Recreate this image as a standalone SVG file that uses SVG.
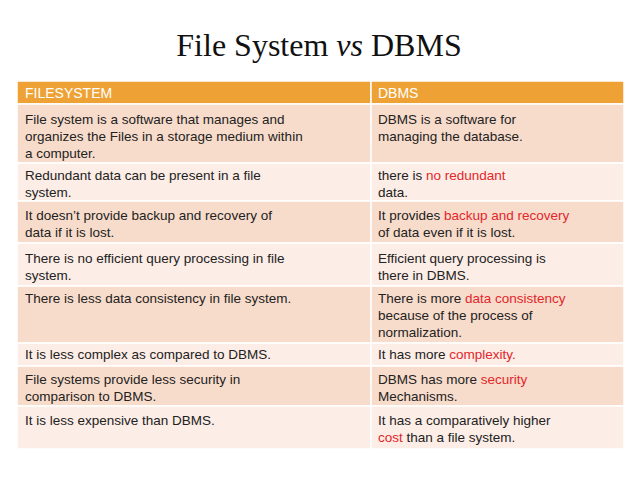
<svg xmlns="http://www.w3.org/2000/svg" width="638" height="478" viewBox="0 0 638 478">
<style>
.t{font-family:"Liberation Sans",Arial,sans-serif;font-size:13.5px;fill:#222222}
.h{font-family:"Liberation Sans",Arial,sans-serif;font-size:14px;fill:#ffffff}
.r{fill:#e2262b}
.dk{fill:#f8dccb;stroke:#ffffff;stroke-width:1.5}
.lt{fill:#fcede6;stroke:#ffffff;stroke-width:1.5}
.hd{fill:#eea235;stroke:#ffffff;stroke-width:1.5}
</style>
<rect width="638" height="478" fill="#ffffff"/>
<text id="title" x="319" y="56" text-anchor="middle" font-family="'Liberation Serif','Times New Roman',serif" font-size="32" fill="#111">File System <tspan font-style="italic">vs</tspan> DBMS</text>
<g id="header">
<rect class="hd" x="17" y="81" width="354" height="23"/>
<rect class="hd" x="371" y="81" width="253" height="23"/>
<text class="h" x="25" y="98">FILESYSTEM</text>
<text class="h" x="378" y="98">DBMS</text>
</g>
<g id="row1">
<rect class="dk" x="17" y="104" width="354" height="59"/>
<rect class="dk" x="371" y="104" width="253" height="59"/>
<text class="t" x="25" y="124">File system is a software that manages and</text>
<text class="t" x="25" y="141">organizes the Files in a storage medium within</text>
<text class="t" x="25" y="158">a computer.</text>
<text class="t" x="378" y="124">DBMS is a software for</text>
<text class="t" x="378" y="141">managing the database.</text>
</g>
<g id="row2">
<rect class="lt" x="17" y="163" width="354" height="38"/>
<rect class="lt" x="371" y="163" width="253" height="38"/>
<text class="t" x="25" y="180">Redundant data can be present in a file</text>
<text class="t" x="25" y="197">system.</text>
<text class="t" x="378" y="180">there is <tspan class="r">no redundant</tspan></text>
<text class="t" x="378" y="197">data.</text>
</g>
<g id="row3">
<rect class="dk" x="17" y="201" width="354" height="42"/>
<rect class="dk" x="371" y="201" width="253" height="42"/>
<text class="t" x="25" y="220">It doesn’t provide backup and recovery of</text>
<text class="t" x="25" y="237">data if it is lost.</text>
<text class="t" x="378" y="220">It provides <tspan class="r">backup and recovery</tspan></text>
<text class="t" x="378" y="237">of data even if it is lost.</text>
</g>
<g id="row4">
<rect class="lt" x="17" y="243" width="354" height="43"/>
<rect class="lt" x="371" y="243" width="253" height="43"/>
<text class="t" x="25" y="263">There is no efficient query processing in file</text>
<text class="t" x="25" y="280">system.</text>
<text class="t" x="378" y="263">Efficient query processing is</text>
<text class="t" x="378" y="280">there in DBMS.</text>
</g>
<g id="row5">
<rect class="dk" x="17" y="286" width="354" height="57"/>
<rect class="dk" x="371" y="286" width="253" height="57"/>
<text class="t" x="25" y="303">There is less data consistency in file system.</text>
<text class="t" x="378" y="303">There is more <tspan class="r">data consistency</tspan></text>
<text class="t" x="378" y="320">because of the process of</text>
<text class="t" x="378" y="337">normalization.</text>
</g>
<g id="row6">
<rect class="lt" x="17" y="343" width="354" height="23"/>
<rect class="lt" x="371" y="343" width="253" height="23"/>
<text class="t" x="25" y="359">It is less complex as compared to DBMS.</text>
<text class="t" x="378" y="359">It has more <tspan class="r">complexity.</tspan></text>
</g>
<g id="row7">
<rect class="dk" x="17" y="366" width="354" height="40"/>
<rect class="dk" x="371" y="366" width="253" height="40"/>
<text class="t" x="25" y="384">File systems provide less security in</text>
<text class="t" x="25" y="401">comparison to DBMS.</text>
<text class="t" x="378" y="384">DBMS has more <tspan class="r">security</tspan></text>
<text class="t" x="378" y="401">Mechanisms.</text>
</g>
<g id="row8">
<rect class="lt" x="17" y="406" width="354" height="43"/>
<rect class="lt" x="371" y="406" width="253" height="43"/>
<text class="t" x="25" y="425">It is less expensive than DBMS.</text>
<text class="t" x="378" y="425">It has a comparatively higher</text>
<text class="t" x="378" y="442"><tspan class="r">cost</tspan> than a file system.</text>
</g>
<g id="connectors"/>
</svg>
